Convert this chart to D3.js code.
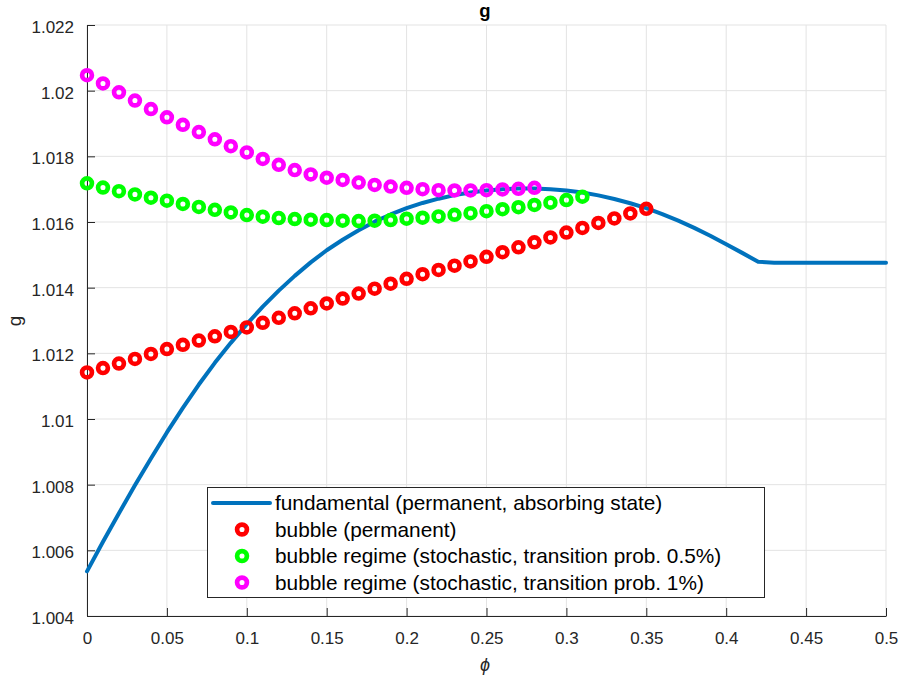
<!DOCTYPE html>
<html>
<head>
<meta charset="utf-8">
<script src="https://cdn.jsdelivr.net/npm/d3@7"></script>
<style>
  body { margin: 0; background: #fff; }
  text { font-family: "Liberation Sans", Arial, sans-serif; }
</style>
</head>
<body>
<script>
// fundamental line
const phiFund = [0, 0.01, 0.02, 0.03, 0.04, 0.05, 0.06, 0.07, 0.08, 0.09,
  0.10, 0.11, 0.12, 0.13, 0.14, 0.15, 0.16, 0.17, 0.18, 0.19,
  0.20, 0.21, 0.22, 0.23, 0.24, 0.25, 0.26, 0.27, 0.28, 0.29,
  0.30, 0.31, 0.32, 0.33, 0.34, 0.35, 0.36, 0.37, 0.38, 0.39,
  0.40, 0.41, 0.42, 0.43, 0.50];
const gFund = [1.00536, 1.00626, 1.00713, 1.00798, 1.00880, 1.00959, 1.01034, 1.01105, 1.01171, 1.01232,
  1.01289, 1.01342, 1.01391, 1.01436, 1.01477, 1.01514, 1.01546, 1.01575, 1.01601, 1.01623,
  1.01642, 1.01658, 1.01671, 1.01682, 1.01690, 1.01696, 1.01700, 1.01702, 1.01702, 1.01700,
  1.01696, 1.01690, 1.01681, 1.01670, 1.01657, 1.01642, 1.01624, 1.01604, 1.01582, 1.01558,
  1.01532, 1.01506, 1.01479, 1.01476, 1.01476];

// bubble (permanent), phi = 0..0.35
const gBubble = [1.01142, 1.01155, 1.01169, 1.01183, 1.01198, 1.01213, 1.01226, 1.01239, 1.01252, 1.01265,
  1.01279, 1.01293, 1.01308, 1.01322, 1.01337, 1.01352, 1.01367, 1.01382, 1.01397, 1.01412,
  1.01427, 1.01441, 1.01454, 1.01467, 1.01480, 1.01494, 1.01508, 1.01523, 1.01538, 1.01553,
  1.01568, 1.01582, 1.01597, 1.01611, 1.01626, 1.01640];

// bubble regime 0.5%, phi = 0..0.31
const gStoch05 = [1.01718, 1.01705, 1.01694, 1.01684, 1.01674, 1.01665, 1.01655, 1.01646, 1.01637, 1.01629,
  1.01621, 1.01616, 1.01612, 1.01609, 1.01607, 1.01606, 1.01604, 1.01603, 1.01604, 1.01606,
  1.01610, 1.01613, 1.01617, 1.01622, 1.01627, 1.01633, 1.01639, 1.01645, 1.01652, 1.01659,
  1.01667, 1.01677];

// bubble regime 1%, phi = 0..0.28
const gStoch1 = [1.02047, 1.02022, 1.01995, 1.01970, 1.01944, 1.01919, 1.01896, 1.01874, 1.01852, 1.01831,
  1.01812, 1.01792, 1.01774, 1.01758, 1.01745, 1.01735, 1.01728, 1.01720, 1.01713, 1.01708,
  1.01704, 1.01700, 1.01697, 1.01696, 1.01696, 1.01697, 1.01699, 1.01701, 1.01704];

const phiGrid = [0, 0.01, 0.02, 0.03, 0.04, 0.05, 0.06, 0.07, 0.08, 0.09,
  0.10, 0.11, 0.12, 0.13, 0.14, 0.15, 0.16, 0.17, 0.18, 0.19,
  0.20, 0.21, 0.22, 0.23, 0.24, 0.25, 0.26, 0.27, 0.28, 0.29,
  0.30, 0.31, 0.32, 0.33, 0.34, 0.35];

const xTicks = [0, 0.05, 0.1, 0.15, 0.2, 0.25, 0.3, 0.35, 0.4, 0.45, 0.5];
const yTicks = [1.004, 1.006, 1.008, 1.010, 1.012, 1.014, 1.016, 1.018, 1.020, 1.022];

const legendLabels = [
  "fundamental (permanent, absorbing state)",
  "bubble (permanent)",
  "bubble regime (stochastic, transition prob. 0.5%)",
  "bubble regime (stochastic, transition prob. 1%)"
];

let W = 899, H = 676;
let mLeft = 87, mRight = 886, mTop = 25, mBottom = 616;
let axisCol = "#262626";

let svg = d3.select("body").append("svg")
  .attr("width", W)
  .attr("height", H);

let x = d3.scaleLinear().domain([0, 0.5]).range([mLeft, mRight]);
let y = d3.scaleLinear().domain([1.004, 1.022]).range([mBottom, mTop]);

// grid
svg.append("g").selectAll("line").data(xTicks).enter().append("line")
  .attr("x1", d => x(d)).attr("x2", d => x(d))
  .attr("y1", mTop).attr("y2", mBottom)
  .attr("stroke", "#e3e3e3").attr("stroke-width", 1);
svg.append("g").selectAll("line").data(yTicks).enter().append("line")
  .attr("x1", mLeft).attr("x2", mRight)
  .attr("y1", d => y(d)).attr("y2", d => y(d))
  .attr("stroke", "#e3e3e3").attr("stroke-width", 1);

// axes
let fmtY = d3.format("~g");
let xAxis = svg.append("g")
  .attr("transform", `translate(0,${mBottom})`)
  .call(d3.axisBottom(x).tickValues(xTicks).tickFormat(d3.format("~g")).tickSizeInner(-8).tickSizeOuter(0).tickPadding(16));
let yAxis = svg.append("g")
  .attr("transform", `translate(${mLeft},0)`)
  .call(d3.axisLeft(y).tickValues(yTicks).tickFormat(d => fmtY(+d.toFixed(3))).tickSizeInner(-8).tickSizeOuter(0).tickPadding(13));

[xAxis, yAxis].forEach(a => {
  a.select(".domain").attr("stroke", axisCol).attr("stroke-width", 1);
  a.selectAll(".tick line").attr("stroke", axisCol);
  a.selectAll(".tick text")
    .attr("fill", axisCol)
    .attr("font-size", "17px")
    .attr("font-family", "'Liberation Sans', Arial, sans-serif");
});
yAxis.selectAll(".tick text").attr("dy", "0.45em");

// fundamental line
let line = d3.line()
  .x((d, i) => x(phiFund[i]))
  .y(d => y(d));
svg.append("path")
  .datum(gFund)
  .attr("d", line)
  .attr("fill", "none")
  .attr("stroke", "#0072BD")
  .attr("stroke-width", 4)
  .attr("stroke-linejoin", "round")
  .attr("stroke-linecap", "round");

// marker series
let series = [
  { vals: gBubble, col: "#ff0000" },
  { vals: gStoch05, col: "#00ff00" },
  { vals: gStoch1, col: "#ff00ff" }
];
series.forEach(s => {
  svg.append("g").selectAll("circle").data(s.vals).enter().append("circle")
    .attr("cx", (d, i) => x(phiGrid[i]))
    .attr("cy", d => y(d))
    .attr("r", 4.9)
    .attr("fill", "none")
    .attr("stroke", s.col)
    .attr("stroke-width", 4.7);
});

// legend
let lg = svg.append("g");
lg.append("rect")
  .attr("x", 207.5).attr("y", 487.5)
  .attr("width", 557).attr("height", 110)
  .attr("fill", "#fff")
  .attr("stroke", axisCol)
  .attr("stroke-width", 1);
let rowY = [503, 529.5, 556, 582.5];
lg.append("line")
  .attr("x1", 213).attr("x2", 270)
  .attr("y1", rowY[0]).attr("y2", rowY[0])
  .attr("stroke", "#0072BD").attr("stroke-width", 4).attr("stroke-linecap", "round");
series.forEach((s, i) => {
  lg.append("circle")
    .attr("cx", 242).attr("cy", rowY[i + 1])
    .attr("r", 4.9)
    .attr("fill", "none")
    .attr("stroke", s.col)
    .attr("stroke-width", 4.7);
});
lg.selectAll("text.lab").data(legendLabels).enter().append("text")
  .attr("class", "lab")
  .attr("x", 275)
  .attr("y", (d, i) => rowY[i])
  .attr("dy", "0.36em")
  .attr("font-size", "20.8px")
  .attr("fill", "#000")
  .text(d => d);

// title and labels
svg.append("text")
  .attr("x", 485)
  .attr("y", 17)
  .attr("text-anchor", "middle")
  .attr("font-size", "18.5px")
  .attr("font-weight", "bold")
  .attr("fill", "#000")
  .text("g");

svg.append("text")
  .attr("transform", "translate(21,321) rotate(-90)")
  .attr("text-anchor", "middle")
  .attr("font-size", "19px")
  .attr("fill", axisCol)
  .text("g");

svg.append("text")
  .attr("x", 485)
  .attr("y", 671)
  .attr("text-anchor", "middle")
  .attr("font-size", "18px")
  .attr("font-style", "italic")
  .attr("font-family", "'DejaVu Serif', serif")
  .attr("fill", axisCol)
  .text("ϕ");
</script>
</body>
</html>
